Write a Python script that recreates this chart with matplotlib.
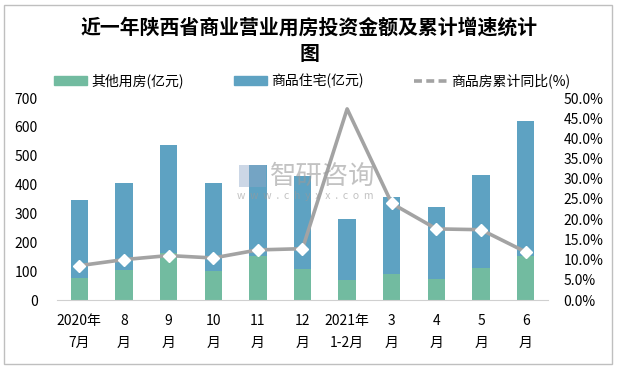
import matplotlib
matplotlib.use("Agg")
import matplotlib.pyplot as plt
from matplotlib.patches import Rectangle
from matplotlib.lines import Line2D
from matplotlib.patches import Patch
import numpy as np

plt.rcParams['font.family'] = ['Noto Sans CJK SC', 'DejaVu Sans']

categories = ["2020年\n7月", "8\n月", "9\n月", "10\n月", "11\n月", "12\n月",
              "2021年\n1-2月", "3\n月", "4\n月", "5\n月", "6\n月"]
other = [76, 104, 162, 100, 154, 107, 69, 90, 73, 111, 152]
total = [346, 405, 537, 405, 468, 430, 281, 357, 322, 433, 620]
residential = [t - o for t, o in zip(total, other)]
growth = [8.5, 10.0, 11.0, 10.4, 12.4, 12.7, 47.3, 23.9, 17.6, 17.4, 11.9]

green = "#72BBA0"
blue = "#5EA2C2"
gray = "#A3A3A3"

fig = plt.figure(figsize=(6.17, 3.68), dpi=100)
ax = fig.add_axes([57/617, 1-300/368, (548-57)/617, (300-98)/368])
x = np.arange(len(categories))
w = 0.39
ax.bar(x, other, w, color=green, zorder=2)
ax.bar(x, residential, w, bottom=other, color=blue, zorder=2)
ax.set_xlim(-0.5, len(categories) - 0.5)
ax.set_ylim(0, 700)
ax.set_yticks(range(0, 701, 100))
ax.set_xticks(x)
ax.set_xticklabels(categories, fontsize=10, linespacing=1.75)
ax.tick_params(axis='both', length=0, labelsize=10)
ax.tick_params(axis='y', pad=14)
ax.tick_params(axis='x', pad=10)
for s in ['top', 'right', 'left']:
    ax.spines[s].set_visible(False)
ax.spines['bottom'].set_color('#D0D0D0')

ax2 = ax.twinx()
ax2.set_ylim(0, 50)
ax2.set_yticks(np.arange(0, 50.1, 5))
ax2.set_yticklabels([f"{v:.1f}%" for v in np.arange(0, 50.1, 5)])
ax2.tick_params(axis='y', length=0, labelsize=10, pad=11)
for s in ['top', 'right', 'left', 'bottom']:
    ax2.spines[s].set_visible(False)
ax2.plot(x, growth, color=gray, lw=2.6, zorder=3)
mk = [i for i in range(len(x)) if i != 6]
ax2.plot(x[mk], [growth[i] for i in mk], linestyle='none', marker='D',
         markersize=6, markerfacecolor='white', markeredgecolor='white', zorder=4)

fig.text(309/617, 1-27/368, "近一年陕西省商业营业用房投资金额及累计增速统计",
         ha='center', va='center', fontsize=14.3, fontweight='bold')
fig.text(309/617, 1-53/368, "图", ha='center', va='center', fontsize=14.3, fontweight='bold')

handles = [Patch(color=green), Patch(color=blue),
           Line2D([0], [0], color=gray, lw=2.6, linestyle=(0, (2.2, 1.2)))]
labels = ["其他用房(亿元)", "商品住宅(亿元)", "商品房累计同比(%)"]
fig.legend(handles, labels, loc='center', bbox_to_anchor=(312/617, 1-81/368), ncol=3,
           frameon=False, fontsize=10, columnspacing=3.6, handlelength=2.4,
           handleheight=0.7, handletextpad=0.3)

# watermark
fig.text(270/617, 1-176/368, "智研咨询", fontsize=19, color='#9A9A9A', alpha=0.6,
         ha='left', va='center', zorder=10)
fig.text(237/617, 1-196/368, "w  w  w  .  c  h  y  x  x  .  c  o  m", fontsize=7.5,
         color='#9A9A9A', alpha=0.6, ha='left', va='center', zorder=10)
fig.patches.append(Rectangle((239/617, 1-187/368), 27/617, 22/368, transform=fig.transFigure,
                             facecolor='#8FA8C8', alpha=0.45, edgecolor='none', zorder=10))

fig.patches.append(Rectangle((4/617, 4/368), 608/617, 359/368, transform=fig.transFigure,
                             facecolor='none', edgecolor='#BFBFBF', lw=1, zorder=0))

fig.savefig("out.png", dpi=100)
